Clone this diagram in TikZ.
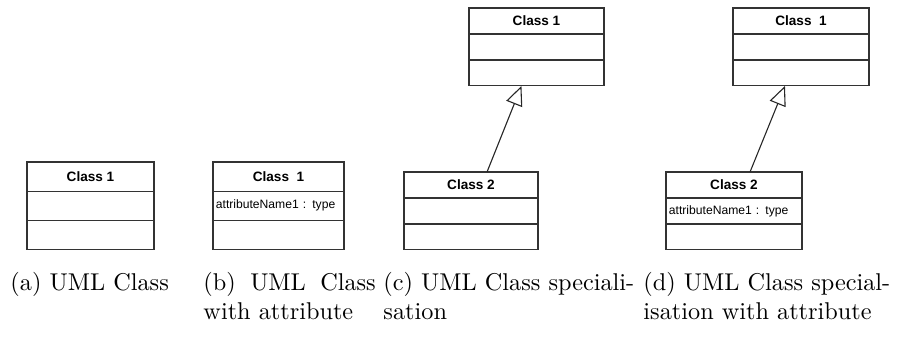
\documentclass[tikz,border=0pt]{standalone}
\usepackage{fontspec}
\setsansfont{Liberation Sans}
\usetikzlibrary{positioning,arrows.meta}

\begin{document}
\begin{tikzpicture}[
  x=0.412pt, y=-0.412pt,
  cls/.style={draw=black!80, fill=white, line width=0.45pt,
              inner sep=1.2pt, outer sep=0pt},
  clshead/.style={cls, minimum width=#1,
                  font=\sffamily\bfseries\fontsize{5.6}{6.7}\selectfont},
  clsrow/.style={cls, minimum width=#1,
                 font=\sffamily\fontsize{5}{6}\selectfont},
  tallrow/.style={minimum height=12pt},
  lowrow/.style={minimum height=10.7pt},
  gen/.style={-{Triangle[open,length=8pt,width=7pt]},line width=0.45pt,black!85},
  capt/.style={anchor=base west, inner sep=0pt, font=\normalsize, align=left}
]
  \useasboundingbox (0,0) rectangle (898,338);

  % (a) plain class
  \node[clshead=52.3pt, tallrow] (a1) at (90.5,176.6) {Class 1};
  \node[clsrow=52.3pt, tallrow, below=0pt of a1] (a1attr) {};
  \node[clsrow=52.3pt, tallrow, below=0pt of a1attr] (a1op) {};

  % (b) class with attribute
  \node[clshead=54pt, tallrow] (b1) at (278.5,176.6) {Class~~1};
  \node[clsrow=54pt, tallrow, text width=51.6pt, align=left, below=0pt of b1] (b1attr) {attributeName1 : type};
  \node[clsrow=54pt, tallrow, below=0pt of b1attr] (b1op) {};

  % (c) specialisation
  \node[clshead=55.6pt, lowrow] (c1) at (536.5,21) {Class 1};
  \node[clsrow=55.6pt, lowrow, below=0pt of c1] (c1attr) {};
  \node[clsrow=55.6pt, lowrow, below=0pt of c1attr] (c1op) {};
  \node[clshead=55.2pt, lowrow] (c2) at (471,185) {Class 2};
  \node[clsrow=55.2pt, lowrow, below=0pt of c2] (c2attr) {};
  \node[clsrow=55.2pt, lowrow, below=0pt of c2attr] (c2op) {};
  \draw[gen] ([xshift=6.6pt]c2.north) -- ([xshift=-6.2pt]c1op.south);

  % (d) specialisation with attribute
  \node[clshead=56pt, lowrow] (d1) at (801,21) {Class~~1};
  \node[clsrow=56pt, lowrow, below=0pt of d1] (d1attr) {};
  \node[clsrow=56pt, lowrow, below=0pt of d1attr] (d1op) {};
  \node[clshead=56pt, lowrow] (d2) at (734,185) {Class 2};
  \node[clsrow=56pt, lowrow, text width=53.6pt, align=left, below=0pt of d2] (d2attr) {attributeName1 : type};
  \node[clsrow=56pt, lowrow, below=0pt of d2attr] (d2op) {};
  \draw[gen] ([xshift=6.6pt]d2.north) -- ([xshift=-6.6pt]d1op.south);

  % sub-captions
  \node[capt] (capa) at (10,290) {(a) UML Class};
  \node[capt, text width=71pt] (capb) at (203,290) {\hbox to 71pt{(b)\hfill UML\hfill Class}\\with attribute};
  \node[capt, text width=105pt] (capc) at (383,290) {(c) UML Class speciali-\\sation};
  \node[capt, text width=106pt] (capd) at (643,290) {(d) UML Class special-\\isation with attribute};
\end{tikzpicture}
\end{document}
